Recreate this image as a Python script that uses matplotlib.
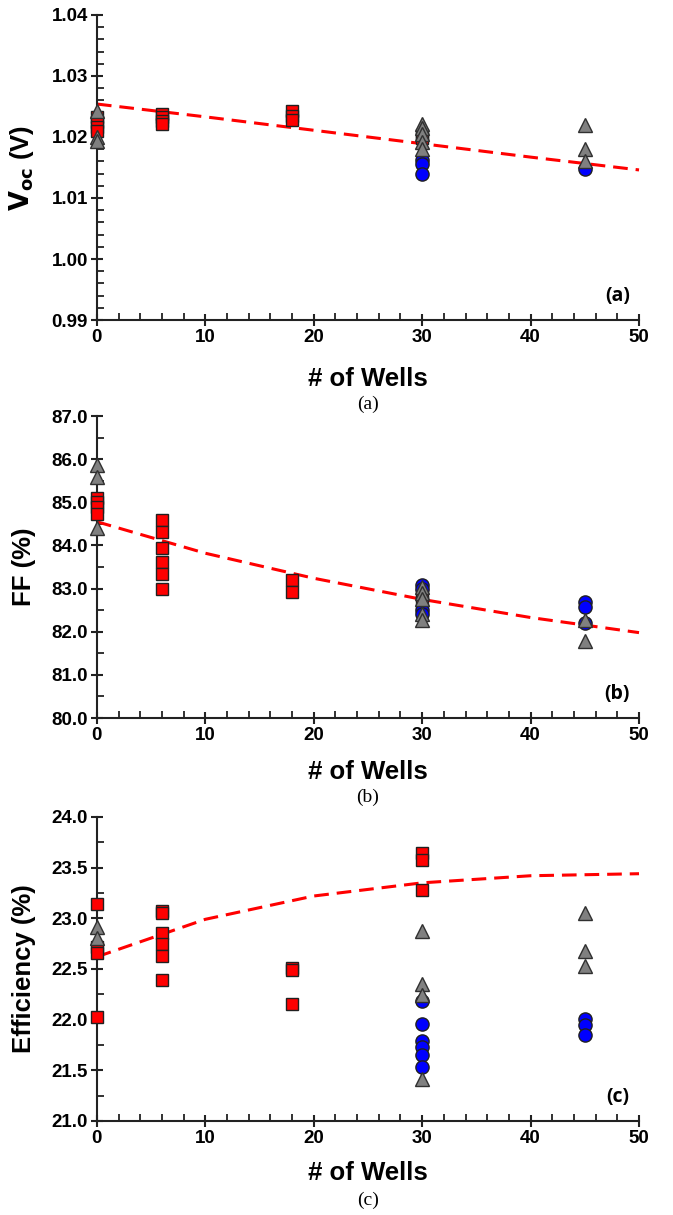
import matplotlib
matplotlib.use("Agg")
import matplotlib.pyplot as plt
from matplotlib.ticker import MultipleLocator, FormatStrFormatter
from matplotlib import font_manager

names = {f.name for f in font_manager.fontManager.ttflist}
TICKFONT = 'Liberation Sans Narrow' if 'Liberation Sans Narrow' in names else 'Liberation Sans'

# ---------------- data ----------------
# Voc (V)
voc_red_x = [0, 0, 0, 0, 6, 6, 6, 6, 18, 18, 18, 30, 30]
voc_red_y = [1.0233, 1.0225, 1.0216, 1.0210, 1.0237, 1.0232, 1.0226, 1.0222, 1.0243, 1.0235, 1.0228, 1.0203, 1.0198]
voc_gray_x = [0, 0, 0, 30, 30, 30, 30, 30, 45, 45, 45]
voc_gray_y = [1.0243, 1.0200, 1.0193, 1.0222, 1.0215, 1.0205, 1.0192, 1.0180, 1.0220, 1.0180, 1.0160]
voc_blue_x = [30, 30, 30, 45]
voc_blue_y = [1.0162, 1.0156, 1.0139, 1.0148]
voc_fit_x = [0, 10, 20, 30, 40, 50]
voc_fit_y = [1.0254, 1.0233, 1.0211, 1.0189, 1.0167, 1.0146]

# FF (%)
ff_red_x = [0, 0, 0, 0, 6, 6, 6, 6, 6, 6, 18, 18, 30, 30]
ff_red_y = [85.10, 85.00, 84.88, 84.74, 84.59, 84.32, 83.95, 83.62, 83.35, 83.00, 83.20, 82.91, 82.85, 82.70]
ff_gray_x = [0, 0, 0, 30, 30, 30, 30, 30, 45, 45]
ff_gray_y = [85.86, 85.59, 84.40, 83.04, 82.89, 82.75, 82.42, 82.27, 82.27, 81.79]
ff_blue_x = [30, 30, 30, 30, 45, 45, 45]
ff_blue_y = [83.08, 83.00, 82.50, 82.42, 82.68, 82.57, 82.20]
ff_fit_x = [0, 10, 20, 30, 40, 50]
ff_fit_y = [84.55, 83.82, 83.24, 82.75, 82.33, 81.98]

# Efficiency (%)
eff_red_x = [0, 0, 0, 0, 6, 6, 6, 6, 6, 6, 18, 18, 18, 30, 30, 30]
eff_red_y = [23.14, 22.72, 22.66, 22.03, 23.07, 23.05, 22.85, 22.75, 22.63, 22.39, 22.51, 22.49, 22.15, 23.64, 23.58, 23.28]
eff_gray_x = [0, 0, 30, 30, 30, 30, 45, 45, 45]
eff_gray_y = [22.91, 22.81, 22.87, 22.35, 22.24, 21.41, 23.05, 22.68, 22.53]
eff_blue_x = [30, 30, 30, 30, 30, 30, 45, 45, 45]
eff_blue_y = [22.18, 21.96, 21.79, 21.73, 21.65, 21.53, 22.01, 21.95, 21.85]
eff_fit_x = [0, 10, 20, 30, 40, 50]
eff_fit_y = [22.62, 22.99, 23.22, 23.35, 23.42, 23.44]

x_ticks = [0, 10, 20, 30, 40, 50]

panels = [
    dict(rect=[0.144, 0.7366, 0.8055, 0.2511], ylim=(0.99, 1.04), major=0.01, minor=0.002, fmt='%.2f',
         red=(voc_red_x, voc_red_y), gray=(voc_gray_x, voc_gray_y), blue=(voc_blue_x, voc_blue_y),
         fit=(voc_fit_x, voc_fit_y), ylabel=r'$\mathbf{V_{oc}}$ (V)', tag='(a)', cap='(a)',
         xlab_y=379, cap_y=404),
    dict(rect=[0.144, 0.409, 0.8055, 0.2486], ylim=(80.0, 87.0), major=1.0, minor=0.5, fmt='%.1f',
         red=(ff_red_x, ff_red_y), gray=(ff_gray_x, ff_gray_y), blue=(ff_blue_x, ff_blue_y),
         fit=(ff_fit_x, ff_fit_y), ylabel='FF (%)', tag='(b)', cap='(b)',
         xlab_y=772, cap_y=797),
    dict(rect=[0.144, 0.0774, 0.8055, 0.2502], ylim=(21.0, 24.0), major=0.5, minor=0.25, fmt='%.1f',
         red=(eff_red_x, eff_red_y), gray=(eff_gray_x, eff_gray_y), blue=(eff_blue_x, eff_blue_y),
         fit=(eff_fit_x, eff_fit_y), ylabel='Efficiency (%)', tag='(c)', cap='(c)',
         xlab_y=1173, cap_y=1200),
]

W, H = 673, 1215
fig = plt.figure(figsize=(W / 100, H / 100), dpi=100)

for p in panels:
    ax = fig.add_axes(p['rect'])
    ax.set_xlim(0, 50)
    ax.set_ylim(*p['ylim'])
    for s in ['top', 'right']:
        ax.spines[s].set_visible(False)
    for s in ['left', 'bottom']:
        ax.spines[s].set_linewidth(1.5)
        ax.spines[s].set_color('#222222')
    ax.set_xticks(x_ticks)
    ax.xaxis.set_minor_locator(MultipleLocator(2))
    ax.yaxis.set_major_locator(MultipleLocator(p['major']))
    ax.yaxis.set_minor_locator(MultipleLocator(p['minor']))
    ax.yaxis.set_major_formatter(FormatStrFormatter(p['fmt']))
    ax.tick_params(which='major', direction='inout', length=9, width=1.5, color='#222222', pad=2)
    ax.tick_params(which='minor', direction='in', length=5, width=1.3, color='#222222')
    for lab in ax.get_xticklabels() + ax.get_yticklabels():
        lab.set_fontfamily(TICKFONT)
        lab.set_fontweight('bold')
        lab.set_fontsize(13.5)

    ax.plot(p['fit'][0], p['fit'][1], color='#ff0000', lw=2.2, ls=(0, (4.8, 2.6)), zorder=2, clip_on=False)
    ax.plot(p['red'][0], p['red'][1], ls='none', marker='s', ms=8.5, mfc='#ff0000', mec='#202020', mew=1.0,
            zorder=3, clip_on=False)
    ax.plot(p['blue'][0], p['blue'][1], ls='none', marker='o', ms=9.5, mfc='#0000ff', mec='#202020', mew=1.0,
            zorder=4, clip_on=False)
    ax.plot(p['gray'][0], p['gray'][1], ls='none', marker='^', ms=10.5, mfc='#808080', mec='#303030', mew=1.0,
            zorder=5, clip_on=False)

    ax.text(0.96, 0.08, p['tag'], transform=ax.transAxes, ha='center', va='center',
            fontsize=14, fontweight='bold', family='Open Sans')
    ax.set_ylabel(p['ylabel'], fontsize=18.5, fontweight='bold', family='Liberation Sans', labelpad=8)
    ax.yaxis.set_label_coords(-0.112, 0.5)

    fig.text(368 / W, 1 - p['xlab_y'] / H, '# of Wells', ha='center', va='center',
             fontsize=18.5, fontweight='bold', family='Liberation Sans')
    fig.text(368 / W, 1 - p['cap_y'] / H, p['cap'], ha='center', va='center',
             fontsize=14, family='Liberation Serif')

fig.savefig('out.png', dpi=100)
